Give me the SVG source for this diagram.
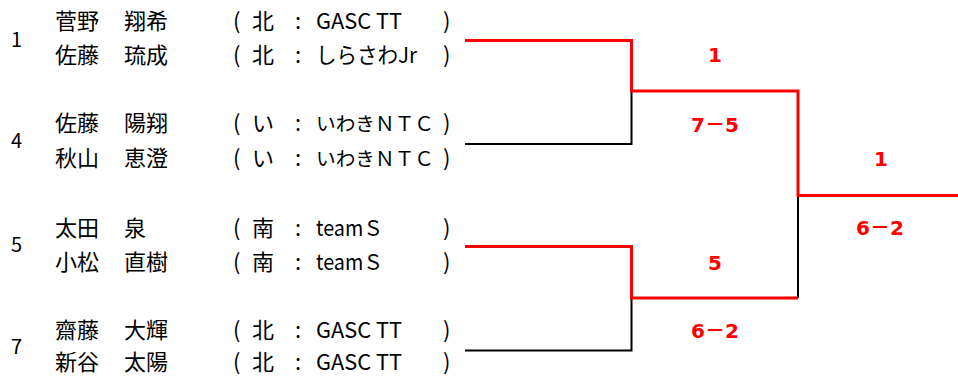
<svg xmlns="http://www.w3.org/2000/svg" width="958" height="376" viewBox="0 0 958 376">
<style>
.t{font-family:"Noto Sans CJK JP","Noto Sans",sans-serif;font-size:22px;fill:#000}
.n{font-size:19.5px}
.s{font-family:"Noto Sans CJK JP","Noto Sans",sans-serif;font-size:20px;fill:#000}
.r{font-family:"DejaVu Sans","Noto Sans CJK JP",sans-serif;font-size:20px;font-weight:bold;fill:#FF0000;text-anchor:middle}
.bk{fill:none;stroke:#000;stroke-width:2}
.rd{fill:none;stroke:#FF0000;stroke-width:3}
</style>
<rect width="958" height="376" fill="#fff"/>
<g id="connectors">
<path class="bk" d="M465,144H631.5V91"/>
<path class="bk" d="M465,350.5H631.5V298"/>
<path class="bk" d="M798,298V195.5"/>
<path class="rd" d="M465,40.5H631.5V91H798V195.5H958"/>
<path class="rd" d="M465,246.5H631.5V298H798"/>
</g>
<g id="entry-1">
<text class="s" x="11" y="47">1</text>
<text class="t" y="29"><tspan x="55">菅野</tspan><tspan x="124">翔希</tspan></text>
<text class="t" y="29"><tspan x="233">(</tspan><tspan x="252">北</tspan><tspan x="295">:</tspan></text>
<text class="t" x="316" y="29" textLength="86" lengthAdjust="spacingAndGlyphs">GASC TT</text>
<text class="t" x="443" y="29">)</text>
<text class="t" y="63"><tspan x="55">佐藤</tspan><tspan x="124">琉成</tspan></text>
<text class="t" y="63"><tspan x="233">(</tspan><tspan x="252">北</tspan><tspan x="295">:</tspan></text>
<text class="t" x="316" y="63" textLength="101" lengthAdjust="spacingAndGlyphs">しらさわJr</text>
<text class="t" x="443" y="63">)</text>
</g>
<g id="entry-4">
<text class="s" x="11" y="148">4</text>
<text class="t" y="130.5"><tspan x="55">佐藤</tspan><tspan x="124">陽翔</tspan></text>
<text class="t" y="130.5"><tspan x="233">(</tspan><tspan x="252">い</tspan><tspan x="295">:</tspan></text>
<text class="t n" x="316" y="130.5" textLength="118" lengthAdjust="spacingAndGlyphs">いわきＮＴＣ</text>
<text class="t" x="443" y="130.5">)</text>
<text class="t" y="165.5"><tspan x="55">秋山</tspan><tspan x="124">恵澄</tspan></text>
<text class="t" y="165.5"><tspan x="233">(</tspan><tspan x="252">い</tspan><tspan x="295">:</tspan></text>
<text class="t n" x="316" y="165.5" textLength="118" lengthAdjust="spacingAndGlyphs">いわきＮＴＣ</text>
<text class="t" x="443" y="165.5">)</text>
</g>
<g id="entry-5">
<text class="s" x="11" y="252">5</text>
<text class="t" y="235.5"><tspan x="55">太田</tspan><tspan x="124">泉</tspan></text>
<text class="t" y="235.5"><tspan x="233">(</tspan><tspan x="252">南</tspan><tspan x="295">:</tspan></text>
<text class="t" x="316" y="235.5" textLength="67" lengthAdjust="spacingAndGlyphs">teamＳ</text>
<text class="t" x="443" y="235.5">)</text>
<text class="t" y="269.5"><tspan x="55">小松</tspan><tspan x="124">直樹</tspan></text>
<text class="t" y="269.5"><tspan x="233">(</tspan><tspan x="252">南</tspan><tspan x="295">:</tspan></text>
<text class="t" x="316" y="269.5" textLength="67" lengthAdjust="spacingAndGlyphs">teamＳ</text>
<text class="t" x="443" y="269.5">)</text>
</g>
<g id="entry-7">
<text class="s" x="11" y="354">7</text>
<text class="t" y="337.5"><tspan x="55">齋藤</tspan><tspan x="124">大輝</tspan></text>
<text class="t" y="337.5"><tspan x="233">(</tspan><tspan x="252">北</tspan><tspan x="295">:</tspan></text>
<text class="t" x="316" y="337.5" textLength="86" lengthAdjust="spacingAndGlyphs">GASC TT</text>
<text class="t" x="443" y="337.5">)</text>
<text class="t" y="370"><tspan x="55">新谷</tspan><tspan x="124">太陽</tspan></text>
<text class="t" y="370"><tspan x="233">(</tspan><tspan x="252">北</tspan><tspan x="295">:</tspan></text>
<text class="t" x="316" y="370" textLength="86" lengthAdjust="spacingAndGlyphs">GASC TT</text>
<text class="t" x="443" y="370">)</text>
</g>
<g id="match-1-4">
<text class="r" x="715" y="62">1</text>
<text class="r" x="715" y="132">7－5</text>
</g>
<g id="match-5-7">
<text class="r" x="715" y="270">5</text>
<text class="r" x="715" y="338">6－2</text>
</g>
<g id="final">
<text class="r" x="881" y="166">1</text>
<text class="r" x="880" y="235">6－2</text>
</g>
</svg>
